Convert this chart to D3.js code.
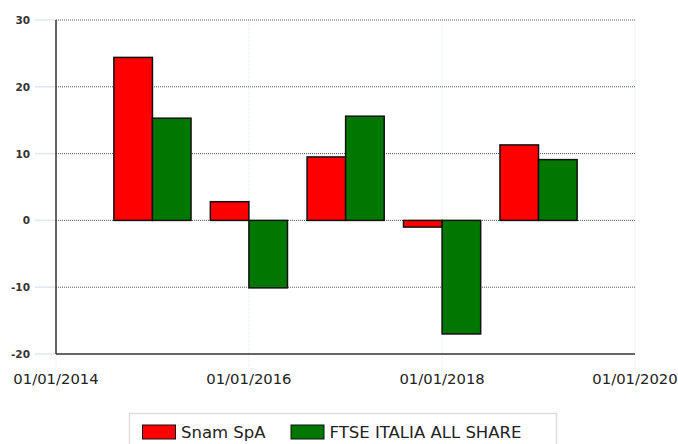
<!DOCTYPE html>
<html>
<head>
<meta charset="utf-8">
<script src="https://cdn.jsdelivr.net/npm/d3@7"></script>
<style>
  body { margin: 0; background: #fff; }
  #graf { width: 678px; height: 444px; }
</style>
</head>
<body>
<div id="graf"></div>
<script>
// datos
anios = ['2015-01-01', '2016-01-01', '2017-01-01', '2018-01-01', '2019-01-01']
snam = [24.4, 2.8, 9.5, -1.0, 11.3]
ftse = [15.3, -10.1, 15.6, -17.0, 9.1]
series = ['Snam SpA', 'FTSE ITALIA ALL SHARE']
yTicks = [-20, -10, 0, 10, 20, 30]
xTicks = ['2014-01-01', '2016-01-01', '2018-01-01', '2020-01-01']

parse = d3.timeParse('%Y-%m-%d')
fmt = d3.timeFormat('%d/%m/%Y')

ancho_total = 678
alto_total = 444
margins = { top: 20, left: 56, right: 43, bottom: 90 }
ancho = ancho_total - margins.left - margins.right
alto = alto_total - margins.top - margins.bottom

svg = d3.select('#graf').append('svg')
  .attr('width', ancho_total)
  .attr('height', alto_total)

g = svg.append('g')
  .attr('transform', `translate(${margins.left}, ${margins.top})`)

x = d3.scaleTime()
  .domain([parse('2014-01-01'), parse('2020-01-01')])
  .range([0, ancho])

y = d3.scaleLinear()
  .domain([-20, 30])
  .range([alto, 0])

color = d3.scaleOrdinal().domain(series).range(['#ff0000', '#007800'])

// lineas verticales (azul claro) y marcas
xTicks.forEach(t => {
  g.append('line')
    .attr('x1', x(parse(t))).attr('x2', x(parse(t)))
    .attr('y1', 0).attr('y2', alto + 14)
    .attr('stroke', '#dce8f6')
    .attr('stroke-width', 1)
    .attr('stroke-dasharray', '1,1')
})

// marcas eje y
yTicks.forEach(t => {
  g.append('line')
    .attr('x1', -21).attr('x2', 0)
    .attr('y1', y(t)).attr('y2', y(t))
    .attr('stroke', '#dce8f6')
    .attr('stroke-width', 1.5)
})

// rejilla horizontal punteada
yTicks.filter(t => t > -20).forEach(t => {
  g.append('line')
    .attr('x1', 0).attr('x2', ancho)
    .attr('y1', y(t)).attr('y2', y(t))
    .attr('stroke', '#555')
    .attr('stroke-width', 1)
    .attr('stroke-dasharray', '1,1')
})

// barras
datos = []
anios.forEach((a, i) => {
  datos.push({ fecha: parse(a), serie: series[0], valor: snam[i], k: 0 })
  datos.push({ fecha: parse(a), serie: series[1], valor: ftse[i], k: 1 })
})
anchoBarra = (x(parse('2016-01-01')) - x(parse('2015-01-01'))) * 0.4

g.selectAll('rect.barra')
  .data(datos)
  .enter()
  .append('rect')
    .attr('class', 'barra')
    .attr('x', d => x(d.fecha) + (d.k - 1) * anchoBarra)
    .attr('y', d => y(Math.max(0, d.valor)))
    .attr('width', anchoBarra)
    .attr('height', d => Math.abs(y(d.valor) - y(0)))
    .attr('fill', d => color(d.serie))
    .attr('stroke', '#111')
    .attr('stroke-width', 1.5)

// ejes
g.append('line')
  .attr('x1', 0).attr('x2', 0).attr('y1', 0).attr('y2', alto)
  .attr('stroke', '#333').attr('stroke-width', 1.5)
g.append('line')
  .attr('x1', 0).attr('x2', ancho).attr('y1', alto).attr('y2', alto)
  .attr('stroke', '#333').attr('stroke-width', 1.5)

// etiquetas y
g.selectAll('text.ylab')
  .data(yTicks)
  .enter()
  .append('text')
    .attr('class', 'ylab')
    .attr('x', -26)
    .attr('y', d => y(d) + 4)
    .attr('text-anchor', 'end')
    .attr('font-family', 'DejaVu Sans')
    .attr('font-weight', 'bold')
    .attr('font-size', '10.5px')
    .attr('fill', '#333')
    .text(d => d)

// etiquetas x
g.selectAll('text.xlab')
  .data(xTicks)
  .enter()
  .append('text')
    .attr('class', 'xlab')
    .attr('x', d => x(parse(d)))
    .attr('y', alto + 30)
    .attr('text-anchor', 'middle')
    .attr('font-family', 'DejaVu Sans')
    .attr('font-size', '14.8px')
    .attr('fill', '#222')
    .text(d => fmt(parse(d)))

// leyenda
leyenda = svg.append('g')
leyenda.append('rect')
  .attr('x', 129.5).attr('y', 413.5)
  .attr('width', 427).attr('height', 40)
  .attr('fill', '#fff')
  .attr('stroke', '#ddd')
  .attr('stroke-width', 1.5)

posLeyenda = [142, 290.5]
series.forEach((s, i) => {
  leyenda.append('rect')
    .attr('x', posLeyenda[i] + 0.5).attr('y', 425)
    .attr('width', 33).attr('height', 14)
    .attr('fill', color(s))
    .attr('stroke', '#111')
    .attr('stroke-width', 1)
  leyenda.append('text')
    .attr('x', posLeyenda[i] + 39)
    .attr('y', 437.5)
    .attr('font-family', 'DejaVu Sans')
    .attr('font-size', '16.5px')
    .attr('fill', '#222')
    .text(s)
})
</script>
</body>
</html>
